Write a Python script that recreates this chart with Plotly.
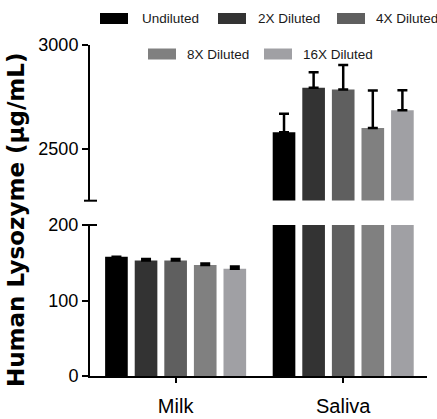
import plotly.graph_objects as go

categories = ["Milk", "Saliva"]
series_names = ["Undiluted", "2X Diluted", "4X Diluted", "8X Diluted", "16X Diluted"]
milk_values = [158, 153, 153, 147, 142]
milk_errors = [None, 2, 2, 2, 3]
saliva_values = [2579, 2794, 2786, 2600, 2685]
saliva_errors = [89, 75, 117, 181, 97]
colors = ["#000000", "#333333", "#5f5f5f", "#808080", "#a0a0a4"]

W, H = 437, 419
ML, MR, MT, MB = 90, 10, 45, 43
PW, PH = W - ML - MR, H - MT - MB

def px_x(px):
    return (px - ML) / PW

def px_y(py):
    return (H - MB - py) / PH

sans = "Liberation Sans, Arial, sans-serif"

fig = go.Figure()
for i, name in enumerate(series_names):
    vals = [milk_values[i], saliva_values[i]]
    errs = [milk_errors[i], saliva_errors[i]]
    for yax in ["y", "y2"]:
        fig.add_trace(go.Bar(
            x=categories, y=vals, name=name, xaxis="x", yaxis=yax,
            marker=dict(color=colors[i], line=dict(width=0)),
            error_y=dict(type="data", array=errs, arrayminus=[0, 0], symmetric=False,
                         color="#000000", thickness=2.5, width=5),
            showlegend=False, hoverinfo="skip",
        ))

# custom legend (wide swatches)
legend_pos = [(100, 18.5, 140), (218, 18.5, 256), (337, 18.5, 374), (148, 54, 185), (264, 54, 301)]
shapes = []
annotations = []
for i, name in enumerate(series_names):
    sx, sy, tx = legend_pos[i]
    shapes.append(dict(type="rect", xref="paper", yref="paper",
                       x0=px_x(sx), x1=px_x(sx + 28), y0=px_y(sy + 5.5), y1=px_y(sy - 5.5),
                       fillcolor=colors[i], line=dict(width=0)))
    annotations.append(dict(text=name, xref="paper", yref="paper", x=px_x(tx), y=px_y(sy),
                            xanchor="left", yanchor="middle", showarrow=False,
                            font=dict(family=sans, size=13.5, color="#1a1a1a")))

# axis break marks
for py in [200.7, 225]:
    shapes.append(dict(type="line", xref="paper", yref="paper",
                       x0=px_x(84), x1=px_x(97), y0=px_y(py), y1=px_y(py),
                       line=dict(color="#000000", width=2)))

annotations.append(dict(text="<b>Human Lysozyme (µg/mL)</b>", xref="paper", yref="paper",
                        x=px_x(16), y=px_y(220), xanchor="center", yanchor="middle",
                        textangle=-90, showarrow=False,
                        font=dict(family="DejaVu Sans", size=23, color="#000000")))

axis_common = dict(showline=True, linecolor="#000000", linewidth=2, ticks="outside",
                   tickwidth=2, ticklen=6, tickcolor="#000000", showgrid=False, zeroline=False,
                   automargin=False,
                   tickfont=dict(family=sans, size=18, color="#000000"))

fig.update_layout(
    width=W, height=H,
    margin=dict(l=ML, r=MR, t=MT, b=MB, autoexpand=False),
    paper_bgcolor="white", plot_bgcolor="white",
    barmode="group", bargap=0.117, bargroupgap=0.235,
    showlegend=False,
    xaxis=dict(anchor="y", range=[-0.511, 1.5], showline=True, linecolor="#000000", linewidth=2,
               ticks="outside", tickwidth=2, ticklen=5, tickcolor="#000000", showgrid=False,
               ticklabelstandoff=6, automargin=False,
               tickfont=dict(family=sans, size=20, color="#000000")),
    yaxis=dict(domain=[0, 0.456], range=[0, 200], tickvals=[0, 100, 200], **axis_common),
    yaxis2=dict(domain=[0.530, 1], range=[2250, 3000], tickvals=[2500, 3000], anchor="x", **axis_common),
    shapes=shapes,
    annotations=annotations,
)

fig.write_html("out.html", config={"displayModeBar": False},
               post_script="document.body.style.margin='0';")
